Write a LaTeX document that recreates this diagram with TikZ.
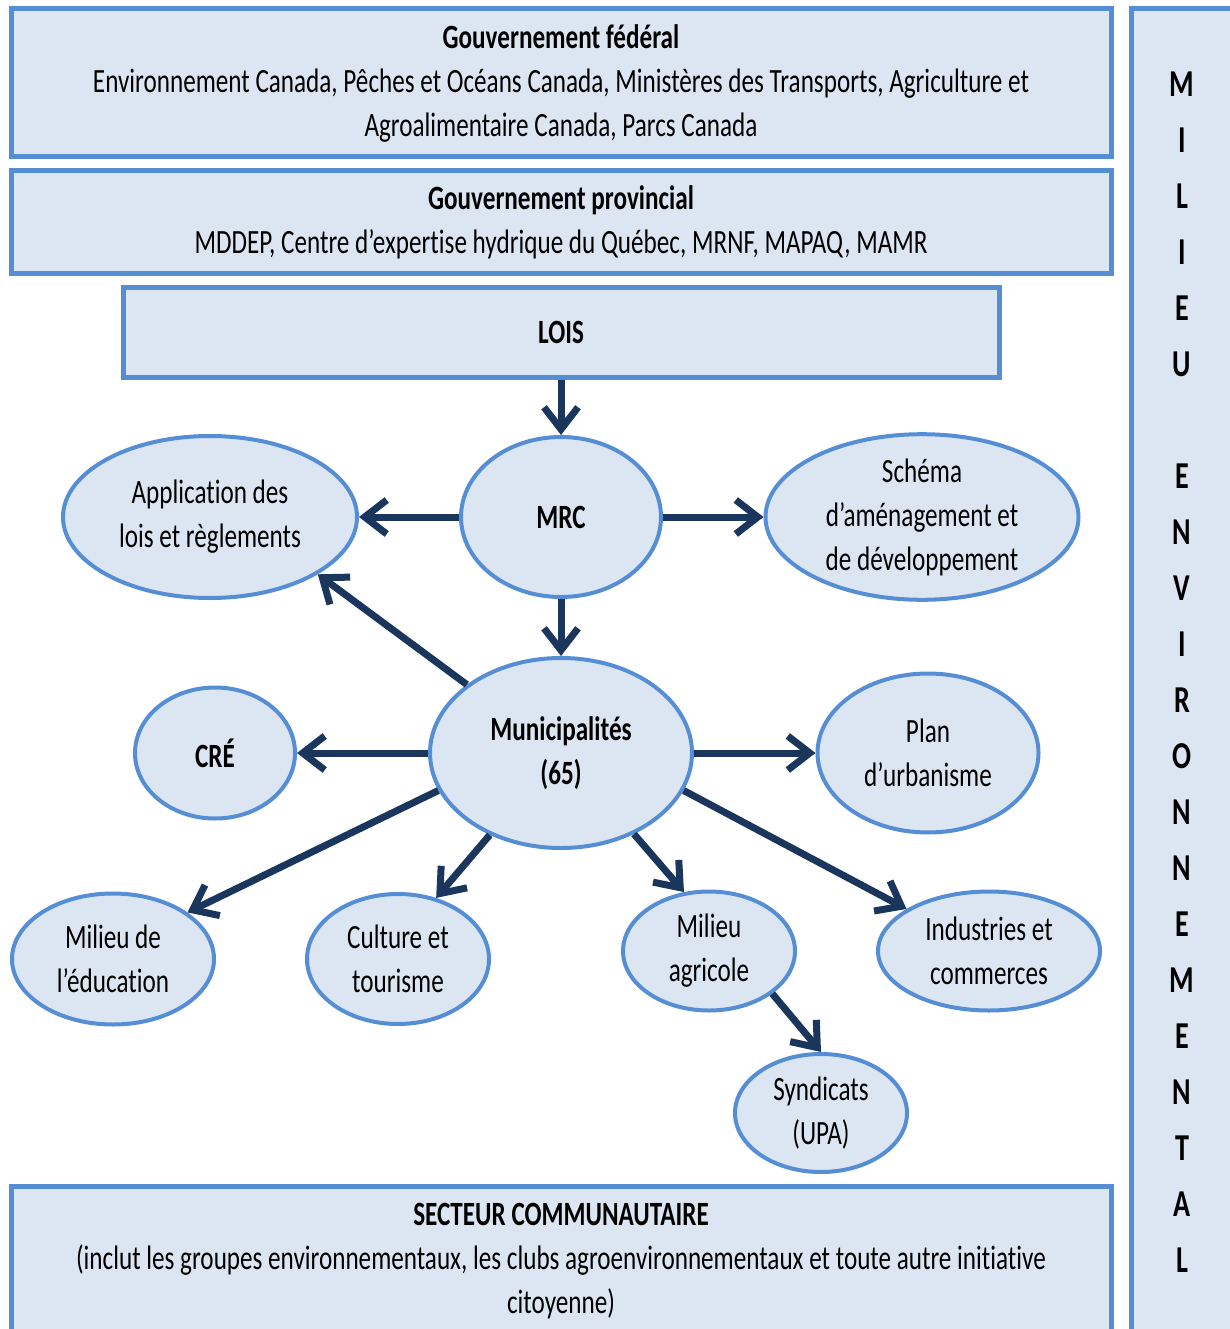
\documentclass[tikz,border=0pt]{standalone}
\usepackage{fontspec}
\setmainfont{Carlito}[FakeStretch=0.74,Ligatures=NoCommon]
\usetikzlibrary{shapes.geometric,arrows.meta}
\definecolor{bfill}{HTML}{DCE6F2}
\definecolor{bline}{HTML}{558ED5}
\definecolor{arr}{HTML}{1B365D}
\begin{document}
\begin{tikzpicture}[x=1pt,y=-1pt,
 box/.style={draw=bline,fill=bfill,line width=5pt,rectangle,inner sep=0pt,align=center,font=\fontsize{34}{44}\selectfont},
 ell/.style={draw=bline,fill=bfill,line width=4pt,ellipse,inner sep=0pt,align=center,font=\fontsize{34}{44}\selectfont},
 conn/.style={draw=arr,line width=7pt,-{Straight Barb[length=22pt,width=34pt]}}
]
\path[use as bounding box] (0,0) rectangle (1230,1329);
\clip (0,0) rectangle (1230,1329);

\node[box,minimum width=1100pt,minimum height=148pt] (fed) at (561,83)
 {\textbf{Gouvernement fédéral}\\Environnement Canada, Pêches et Océans Canada, Ministères des Transports, Agriculture et\\Agroalimentaire Canada, Parcs Canada};
\node[box,minimum width=1100pt,minimum height=103pt] (prov) at (561,222.5)
 {\textbf{Gouvernement provincial}\\MDDEP, Centre d’expertise hydrique du Québec, MRNF, MAPAQ, MAMR};
\node[box,minimum width=876pt,minimum height=89pt] (lois) at (561,332.5) {\textbf{LOIS}};
\node[box,minimum width=1100pt,minimum height=150pt] (sect) at (561,1261)
 {\textbf{SECTEUR COMMUNAUTAIRE}\\(inclut les groupes environnementaux, les clubs agroenvironnementaux et toute autre initiative\\citoyenne)};
\node[box,minimum width=102pt,minimum height=1327pt,font=\fontsize{38}{56}\selectfont\bfseries] (milieu) at (1182,672.5)
 {M\\I\\L\\I\\E\\U\\~\\E\\N\\V\\I\\R\\O\\N\\N\\E\\M\\E\\N\\T\\A\\L};

\node[ell,minimum width=294pt,minimum height=162pt] (app) at (210,517) {Application des\\lois et règlements};
\node[ell,minimum width=200pt,minimum height=160pt] (mrc) at (561,517) {\textbf{MRC}};
\node[ell,minimum width=313pt,minimum height=162pt] (sch) at (922,517) {Schéma\\d’aménagement et\\de développement};
\node[ell,minimum width=262pt,minimum height=190pt] (mun) at (561,753) {\textbf{Municipalités}\\\textbf{(65)}};
\node[ell,minimum width=160pt,minimum height=131pt] (cre) at (215,753) {\textbf{CRÉ}};
\node[ell,minimum width=221pt,minimum height=159pt] (plan) at (928,753) {Plan\\d’urbanisme};
\node[ell,minimum width=202pt,minimum height=131pt] (edu) at (113,959) {Milieu de\\l’éducation};
\node[ell,minimum width=182pt,minimum height=130pt] (cult) at (398,959) {Culture et\\tourisme};
\node[ell,minimum width=172pt,minimum height=119pt] (agri) at (709,951) {Milieu\\agricole};
\node[ell,minimum width=222pt,minimum height=119pt] (ind) at (989,951) {Industries et\\commerces};
\node[ell,minimum width=172pt,minimum height=118pt] (synd) at (821,1113) {Syndicats\\(UPA)};

\draw[conn] (lois.south) -- (mrc.north);
\draw[conn] (mrc.west) -- (app.east);
\draw[conn] (mrc.east) -- (sch.west);
\draw[conn] (mrc.south) -- (mun.north);
\draw[conn] (mun.144) -- (app.-28);
\draw[conn] (mun.west) -- (cre.east);
\draw[conn] (mun.east) -- (plan.west);
\draw[conn] (mun.197) -- (edu.32);
\draw[conn] (mun.229) -- (cult.58);
\draw[conn] (mun.-48) -- (agri.113);
\draw[conn] (mun.-17) -- (ind.153);
\draw[conn] (agri.-34) -- (synd.north);
\end{tikzpicture}
\end{document}
